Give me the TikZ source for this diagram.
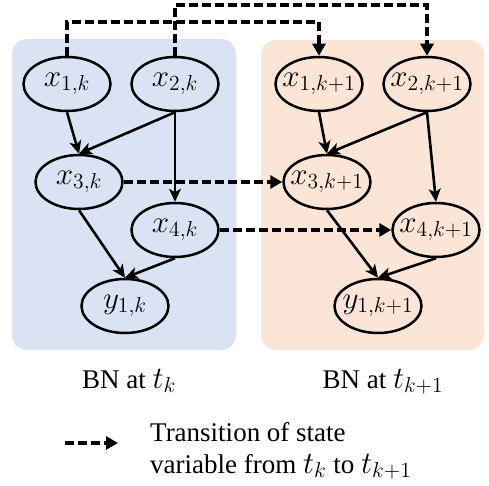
\documentclass[tikz,border=0pt]{standalone}
\usepackage{fontspec}
\setmainfont{Liberation Serif}
\usetikzlibrary{shapes.geometric,arrows.meta}
\definecolor{bnblue}{HTML}{DAE3F3}
\definecolor{bnorange}{HTML}{FBE5D6}
\newcommand{\bnmath}[2]{\scalebox{#1}{\fontsize{20.74}{25}\selectfont$#2$}}
\newcommand{\nlbl}[1]{\makebox[0pt][c]{\bnmath{1.5}{#1}}}
\begin{document}
\begin{tikzpicture}[x=1pt,y=-1pt,
 bn/.style={ellipse,draw,line width=2.5pt,minimum width=87pt,minimum height=54pt,inner sep=0pt},
 dep/.style={line width=2.6pt,-{Stealth[length=13pt,width=12pt,inset=3.5pt]}},
 trans/.style={line width=3.1pt,dash pattern=on 9pt off 4pt,-{Triangle[length=12pt,width=13pt]}},
 panel/.style={rounded corners=15pt},
 caption/.style={font=\fontsize{27}{33}\selectfont,anchor=base,inner sep=0pt}]
\useasboundingbox (0,0) rectangle (489,486);
% panels
\fill[bnblue,panel] (12,39) rectangle (236,350);
\fill[bnorange,panel] (261,40) rectangle (484,350);
% nodes at t_k
\node[bn] (x1k) at (67,84) {\nlbl{x_{1,k}}};
\node[bn] (x2k) at (175,84) {\nlbl{x_{2,k}}};
\node[bn] (x3k) at (79,182) {\nlbl{x_{3,k}}};
\node[bn] (x4k) at (175,230) {\nlbl{x_{4,k}}};
\node[bn] (y1k) at (125,306) {\nlbl{y_{1,k}}};
% nodes at t_{k+1}
\node[bn] (x1n) at (319,84) {\nlbl{x_{1,k+1}}};
\node[bn] (x2n) at (427,84) {\nlbl{x_{2,k+1}}};
\node[bn] (x3n) at (327,182) {\nlbl{x_{3,k+1}}};
\node[bn] (x4n) at (436,230) {\nlbl{x_{4,k+1}}};
\node[bn] (y1n) at (378,306) {\nlbl{y_{1,k+1}}};
% solid dependencies
\draw[dep] (x1k.south) -- (x3k.north);
\draw[dep] (x2k.south) -- (x3k.north);
\draw[dep] (x2k.south) -- (x4k.north);
\draw[dep] (x3k.south) -- (y1k.north);
\draw[dep] (x4k.south) -- (y1k.north);
\draw[dep] (x1n.south) -- (x3n.north);
\draw[dep] (x2n.south) -- (x3n.north);
\draw[dep] (x2n.south) -- (x4n.north);
\draw[dep] (x3n.south) -- (y1n.north);
\draw[dep] (x4n.south) -- (y1n.north);
% transitions
\coordinate (r1) at (0,22);
\coordinate (r2) at (0,5);
\draw[trans] (x1k.north) -- (x1k.north |- r1) -| (x1n.north);
\draw[trans] (x2k.north) -- (x2k.north |- r2) -| (x2n.north);
\draw[trans] (x3k.east) -- (x3n.west);
\draw[trans] (x4k.east) -- (x4n.west);
% captions
\node[caption] (capL) at (129,388) {BN at \bnmath{1.5}{t_k}};
\node[caption] (capR) at (383,388) {BN at \bnmath{1.5}{t_{k+1}}};
% legend
\coordinate (legA) at (65,443);
\coordinate (legB) at (118,443);
\draw[trans] (legA) -- (legB);
\node[caption,anchor=base west] (leg1) at (150,441) {Transition of state};
\node[caption,anchor=base west] (leg2) at (150,473) {variable from \bnmath{1.5}{t_k} to \bnmath{1.5}{t_{k+1}}};
\end{tikzpicture}
\end{document}
